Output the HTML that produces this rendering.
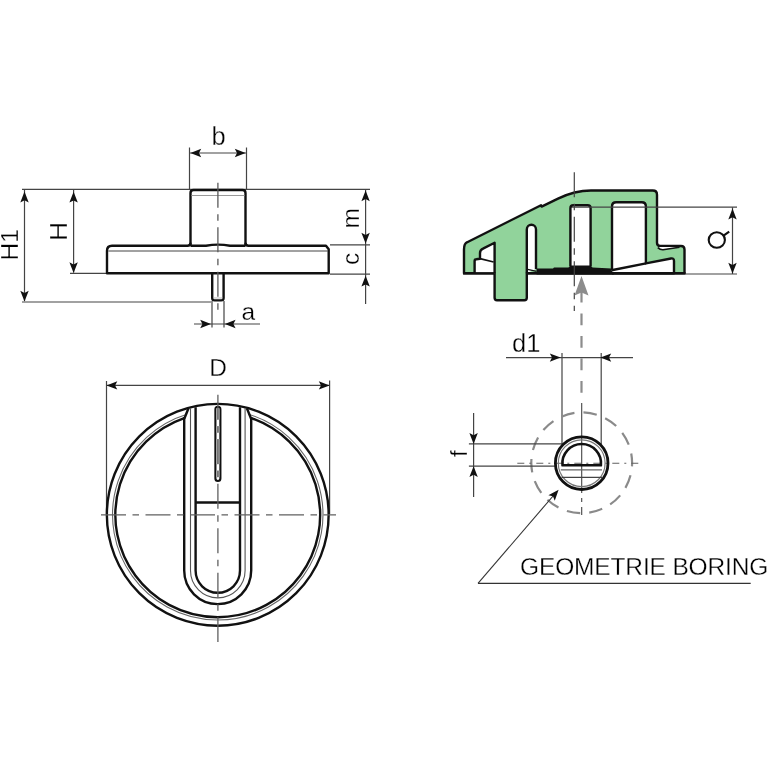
<!DOCTYPE html>
<html><head><meta charset="utf-8"><style>
html,body{margin:0;padding:0;background:#fff;}
svg{display:block;font-family:"Liberation Sans",sans-serif;will-change:transform;}
</style></head><body>
<svg width="768" height="768" viewBox="0 0 768 768">
<rect width="768" height="768" fill="#fff"/>
<line x1="22" y1="189.3" x2="370" y2="189.3" stroke="#444" stroke-width="1.2" />
<line x1="22" y1="302" x2="211" y2="302" stroke="#444" stroke-width="1.2" />
<line x1="70" y1="273.3" x2="107" y2="273.3" stroke="#444" stroke-width="1.2" />
<line x1="330" y1="244.9" x2="370" y2="244.9" stroke="#444" stroke-width="1.2" />
<line x1="330" y1="274.1" x2="370" y2="274.1" stroke="#444" stroke-width="1.2" />
<line x1="189.5" y1="147.5" x2="189.5" y2="189" stroke="#444" stroke-width="1.2" />
<line x1="246.5" y1="147.5" x2="246.5" y2="189" stroke="#444" stroke-width="1.2" />
<line x1="189.5" y1="153" x2="246.5" y2="153" stroke="#444" stroke-width="1.2" />
<polygon points="190.40,153.00 201.20,148.80 199.00,153.00 201.20,157.20" fill="#111"/>
<polygon points="245.60,153.00 234.80,157.20 237.00,153.00 234.80,148.80" fill="#111"/>
<text x="218.5" y="144.8" text-anchor="middle" font-size="25.5" fill="#000" stroke="#fff" stroke-width="0.3">b</text>
<line x1="24.5" y1="190" x2="24.5" y2="301" stroke="#444" stroke-width="1.2" />
<polygon points="24.50,191.60 28.70,202.40 24.50,200.20 20.30,202.40" fill="#111"/>
<polygon points="24.50,301.60 20.30,290.80 24.50,293.00 28.70,290.80" fill="#111"/>
<text x="18.2" y="244.8" transform="rotate(-90 18.2 244.8)" text-anchor="middle" font-size="24.5" fill="#000" stroke="#fff" stroke-width="0.3">H1</text>
<line x1="73.6" y1="190" x2="73.6" y2="272.5" stroke="#444" stroke-width="1.2" />
<polygon points="73.60,191.80 77.80,202.60 73.60,200.40 69.40,202.60" fill="#111"/>
<polygon points="73.60,273.00 69.40,262.20 73.60,264.40 77.80,262.20" fill="#111"/>
<text x="66.9" y="231.4" transform="rotate(-90 66.9 231.4)" text-anchor="middle" font-size="24.5" fill="#000" stroke="#fff" stroke-width="0.3" textLength="19.2" lengthAdjust="spacingAndGlyphs">H</text>
<line x1="365.6" y1="189" x2="365.6" y2="304" stroke="#444" stroke-width="1.2" />
<polygon points="365.60,190.40 369.80,201.20 365.60,199.00 361.40,201.20" fill="#111"/>
<polygon points="365.60,243.60 361.40,232.80 365.60,235.00 369.80,232.80" fill="#111"/>
<polygon points="365.60,275.80 369.80,286.60 365.60,284.40 361.40,286.60" fill="#111"/>
<text x="359" y="218.2" transform="rotate(-90 359 218.2)" text-anchor="middle" font-size="24.5" fill="#000" stroke="#fff" stroke-width="0.3">m</text>
<text x="359" y="258.9" transform="rotate(-90 359 258.9)" text-anchor="middle" font-size="24.5" fill="#000" stroke="#fff" stroke-width="0.3">c</text>
<line x1="212" y1="301" x2="212" y2="327.5" stroke="#444" stroke-width="1.2" />
<line x1="224" y1="301" x2="224" y2="327.5" stroke="#444" stroke-width="1.2" />
<line x1="194" y1="324" x2="260" y2="324" stroke="#444" stroke-width="1.2" />
<polygon points="211.00,324.00 200.20,328.20 202.40,324.00 200.20,319.80" fill="#111"/>
<polygon points="224.80,324.00 235.60,319.80 233.40,324.00 235.60,328.20" fill="#111"/>
<text x="248.2" y="320" text-anchor="middle" font-size="24.5" fill="#000" stroke="#fff" stroke-width="0.3">a</text>
<path d="M190.5,245.7 L190.5,193 Q190.5,190 193.5,190 L242.5,190 Q245.5,190 245.5,193 L245.5,245.7" fill="none" stroke="#111" stroke-width="2.4" stroke-linejoin="round" />
<line x1="191.5" y1="195.5" x2="244.5" y2="195.5" stroke="#999" stroke-width="1" />
<path d="M112,245.7 L187.5,245.7 Q190.5,245.7 190.5,242.7 M245.5,242.7 Q245.5,245.7 248.5,245.7 L326,245.7 L328.7,249.2 L328.7,273.3 L107,273.3 L107,250.7 Q107,245.7 112,245.7" fill="none" stroke="#111" stroke-width="2.4" stroke-linejoin="round" />
<path d="M190.5,245.7 L206,245.7 Q218,243.6 230,245.7 L245.5,245.7" fill="none" stroke="#111" stroke-width="2.4" stroke-linejoin="round" />
<line x1="108.3" y1="251" x2="327.8" y2="251" stroke="#444" stroke-width="1.1" />
<path d="M212.2,273.3 L212.2,298 Q212.2,300.4 214.6,300.4 L221.2,300.4 Q223.6,300.4 223.6,298 L223.6,273.3" fill="none" stroke="#111" stroke-width="2.4" stroke-linejoin="round" />
<line x1="213.5" y1="298" x2="222.5" y2="298" stroke="#aaa" stroke-width="0.8" />
<line x1="217.9" y1="182.7" x2="217.9" y2="309.7" stroke="#5a5a5a" stroke-width="1.3" stroke-dasharray="25 6.5 6.5 6.5"/>
<line x1="106.5" y1="381" x2="106.5" y2="514" stroke="#444" stroke-width="1.2" />
<line x1="329.6" y1="380.4" x2="329.6" y2="514" stroke="#444" stroke-width="1.2" />
<line x1="106.5" y1="385.4" x2="329.6" y2="385.4" stroke="#444" stroke-width="1.2" />
<polygon points="106.50,385.40 117.30,381.20 115.10,385.40 117.30,389.60" fill="#111"/>
<polygon points="329.60,385.40 318.80,389.60 321.00,385.40 318.80,381.20" fill="#111"/>
<text x="218.2" y="376" text-anchor="middle" font-size="24.5" fill="#000" stroke="#fff" stroke-width="0.3">D</text>
<circle cx="217.75" cy="514.8" r="110.9" fill="none" stroke="#111" stroke-width="2.4"/>
<path d="M187.00,414.19 A105.2,105.2 0 1 0 248.50,414.19" fill="none" stroke="#666" stroke-width="1.1" stroke-linejoin="round" />
<path d="M184.20,418.05 A102.4,102.4 0 1 0 251.20,418.02" fill="none" stroke="#111" stroke-width="2.4" stroke-linejoin="round" />
<path d="M184.2,417 L184.2,570.6 A33.5,33.5 0 0 0 251.2,570.6 L251.2,417" fill="none" stroke="#111" stroke-width="2.4" stroke-linejoin="round" />
<path d="M190.5,408 L190.5,570.6 A27.3,27.3 0 0 0 245.1,570.6 L245.1,408" fill="none" stroke="#555" stroke-width="1.1" stroke-linejoin="round" />
<path d="M195.6,407.2 L195.6,570.6 A22.2,22.2 0 0 0 240,570.6 L240,407.2" fill="none" stroke="#111" stroke-width="2.4" stroke-linejoin="round" />
<path d="M184.4,418.5 L188.5,408.2" fill="none" stroke="#111" stroke-width="2.4" stroke-linejoin="round" />
<path d="M251,418.5 L246.9,408.2" fill="none" stroke="#111" stroke-width="2.4" stroke-linejoin="round" />
<line x1="195.6" y1="502.5" x2="240" y2="502.5" stroke="#111" stroke-width="2.4" />
<rect x="215.4" y="406.9" width="5" height="74.1" rx="2.5" fill="#fff" stroke="#111" stroke-width="2.1"/>
<line x1="217.9" y1="408" x2="217.9" y2="480" stroke="#b4b4b4" stroke-width="3" stroke-dasharray="25 6.5 6.5 6.5" stroke-dashoffset="13.5"/>
<line x1="101" y1="514.8" x2="336" y2="514.8" stroke="#606060" stroke-width="1.3" stroke-dasharray="25 6.5 6.5 6.5"/>
<line x1="217.9" y1="394.7" x2="217.9" y2="642" stroke="#606060" stroke-width="1.3" stroke-dasharray="25 6.5 6.5 6.5"/>
<line x1="685.3" y1="274" x2="737" y2="274" stroke="#444" stroke-width="1.2" />
<line x1="732.5" y1="207.2" x2="732.5" y2="274" stroke="#444" stroke-width="1.2" />
<polygon points="732.50,208.60 736.70,219.40 732.50,217.20 728.30,219.40" fill="#111"/>
<polygon points="732.50,273.60 728.30,262.80 732.50,265.00 736.70,262.80" fill="#111"/>
<ellipse cx="716.8" cy="240" rx="8.1" ry="7.7" fill="none" stroke="#111" stroke-width="2.1"/>
<line x1="723.2" y1="235.8" x2="729.2" y2="231.6" stroke="#111" stroke-width="2.1" />
<path d="M464,273.3 L464,249.5 Q464,243.6 467.2,242.2 L541,205.2 L541.6,206.6 L558,198.6 Q574.7,190.5 591,190.5 L652.8,190.5 Q657,190.5 657,194.7 L657,242.8 Q657,246 660.2,246 L681,246 Q684.5,246 684.5,249.5 L684.5,273.3 L526.8,273.3 L526.8,297.8 Q526.8,300.2 524.4,300.2 L497,300.2 Q494.6,300.2 494.6,297.8 L494.6,273.3 Z" fill="#91d39b" stroke="#111" stroke-width="2.4" stroke-linejoin="round" />
<path d="M474.6,273.3 L474.6,261 Q474.6,259.3 476.3,259.3 L480,258.8 L480,253 Q480,250 483,248.6 L494.6,242.7 L494.6,273.3" fill="#fff" stroke="#111" stroke-width="2.4" stroke-linejoin="round" />
<line x1="480" y1="258.6" x2="493.6" y2="262" stroke="#111" stroke-width="1.8" />
<path d="M526.8,273.3 L526.8,229.4 A4.6,4.6 0 0 1 536,229.4 L536,269" fill="#fff" stroke="#111" stroke-width="2.4" stroke-linejoin="round" />
<path d="M570.4,266 L570.4,208.2 Q570.4,205.2 573.4,205.2 L587.6,205.2 Q590.6,205.2 590.6,208.2 L590.6,266" fill="#fff" stroke="#111" stroke-width="2.4" stroke-linejoin="round" />
<path d="M612,270 L612,206.4 Q612,202.2 616.2,202.2 L641.7,202.2 Q645.9,202.2 645.9,206.4 L645.9,263.4 L671,258.5 Q674,258 674,261 L674,273.3 L612,273.3" fill="#fff" stroke="#111" stroke-width="2.4" stroke-linejoin="round" />
<line x1="611.5" y1="270.2" x2="646" y2="263.4" stroke="#111" stroke-width="2.4" />
<path d="M659.5,247.1 L679,247.1 L663,249.4 Q660.8,249.4 659.5,247.9 Z" fill="#fff"/>
<path d="M657.8,247.6 Q660,249.9 663,249.8 L679.5,247.2" fill="none" stroke="#111" stroke-width="1.6" stroke-linejoin="round" />
<path d="M536.5,268.6 L553,268.6 L554,267.4 L568.5,267.4 L570.4,265.6 L590.6,265.6 L592.5,267.6 L611.5,268.6 L611.5,270.2 L614,274.5 L536.5,274.5 Z" fill="#111"/>
<line x1="527.6" y1="269.4" x2="536.5" y2="271.3" stroke="#111" stroke-width="1.3" />
<line x1="463" y1="273.3" x2="494.6" y2="273.3" stroke="#111" stroke-width="2.4" />
<line x1="526.8" y1="273.3" x2="685.5" y2="273.3" stroke="#111" stroke-width="2.4" />
<line x1="574.3" y1="172.2" x2="574.3" y2="311" stroke="#444" stroke-width="1.2" stroke-dasharray="25 6.5 6.5 6.5"/>
<line x1="572" y1="207.2" x2="737" y2="207.2" stroke="#444" stroke-width="1.2" />
<polygon points="581.50,275.90 588.50,295.40 581.50,292.40 574.50,295.40" fill="#8c8c8c"/>
<line x1="581.5" y1="291" x2="581.5" y2="302.5" stroke="#8c8c8c" stroke-width="2.2" />
<line x1="581.5" y1="313.4" x2="581.5" y2="402" stroke="#8c8c8c" stroke-width="2.2" stroke-dasharray="11.9 10.6"/>
<line x1="562" y1="353" x2="562" y2="444" stroke="#444" stroke-width="1.2" />
<line x1="601.2" y1="353" x2="601.2" y2="444" stroke="#444" stroke-width="1.2" />
<line x1="506" y1="357.6" x2="633" y2="357.6" stroke="#444" stroke-width="1.2" />
<polygon points="560.60,357.60 549.80,361.80 552.00,357.60 549.80,353.40" fill="#111"/>
<polygon points="600.40,357.60 611.20,353.40 609.00,357.60 611.20,361.80" fill="#111"/>
<text x="526.2" y="352" text-anchor="middle" font-size="25.5" fill="#000" stroke="#fff" stroke-width="0.3">d1</text>
<circle cx="581.7" cy="462.8" r="50.4" fill="none" stroke="#8a8a8a" stroke-width="2.2" stroke-dasharray="13.5 9.12" stroke-dashoffset="9.9"/>
<line x1="468.9" y1="443.9" x2="562" y2="443.9" stroke="#444" stroke-width="1.2" />
<line x1="468.9" y1="466.2" x2="556" y2="466.2" stroke="#444" stroke-width="1.2" />
<line x1="473.6" y1="413" x2="473.6" y2="497" stroke="#444" stroke-width="1.2" />
<polygon points="473.60,443.90 469.40,433.10 473.60,435.30 477.80,433.10" fill="#111"/>
<polygon points="473.60,466.20 477.80,477.00 473.60,474.80 469.40,477.00" fill="#111"/>
<text x="467.3" y="453.6" transform="rotate(-90 467.3 453.6)" text-anchor="middle" font-size="24.5" fill="#000" stroke="#fff" stroke-width="0.3">f</text>
<line x1="517.3" y1="463.3" x2="643" y2="463.3" stroke="#606060" stroke-width="1.1" stroke-dasharray="7 5 2 5"/>
<line x1="581.7" y1="403" x2="581.7" y2="515" stroke="#444" stroke-width="1.1" stroke-dasharray="90 5 4 5"/>
<circle cx="581.7" cy="463.2" r="26.3" fill="none" stroke="#111" stroke-width="2.8"/>
<circle cx="581.7" cy="463.2" r="23.4" fill="none" stroke="#777" stroke-width="1.2"/>
<path d="M562.5,465.3 A19.3,19.3 0 1 1 600.9,465.3 Z" fill="none" stroke="#111" stroke-width="2.6" stroke-linejoin="round" />
<line x1="560.8" y1="469.9" x2="602" y2="469.9" stroke="#666" stroke-width="1.2" />
<line x1="561.5" y1="477.4" x2="602.5" y2="477.4" stroke="#444" stroke-width="1.1" />
<line x1="478" y1="583.4" x2="556.5" y2="492" stroke="#333" stroke-width="1.1" />
<polygon points="558.60,489.70 554.74,500.63 552.99,496.22 548.37,495.15" fill="#111"/>
<line x1="478" y1="583.4" x2="750.7" y2="583.4" stroke="#333" stroke-width="1.1" />
<text x="520.1" y="575.4" text-anchor="start" font-size="24.5" fill="#000" stroke="#fff" stroke-width="0.3" letter-spacing="-0.15">GEOMETRIE BORING</text>
</svg>
</body></html>
